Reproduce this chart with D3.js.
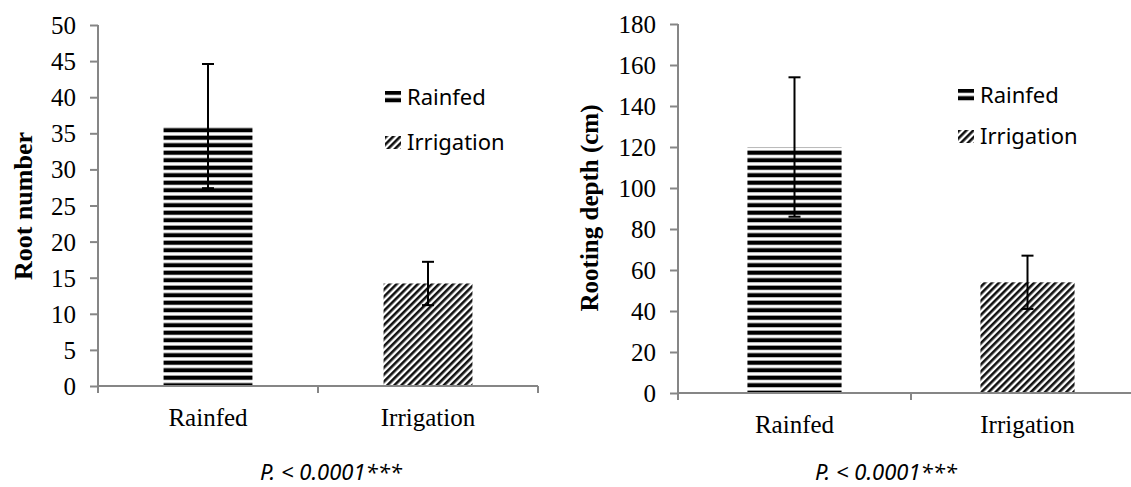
<!DOCTYPE html>
<html>
<head>
<meta charset="utf-8">
<script src="https://cdn.jsdelivr.net/npm/d3@7"></script>
<style>
  html, body { margin: 0; padding: 0; background: #fff; }
  svg { display: block; }
</style>
</head>
<body>
<svg id="chart" width="1131" height="487"></svg>
<script>
// Treatments shown on both panels
const categories = ["Rainfed", "Irrigation"];

// Panel 1: root number (mean and standard error)
const rootNumber = [36, 14.2];
const rootNumberErr = [8.6, 3];
const rootTicks = [0, 5, 10, 15, 20, 25, 30, 35, 40, 45, 50];

// Panel 2: rooting depth in cm (mean and standard error)
const rootDepth = [120, 54];
const rootDepthErr = [34, 13];
const depthTicks = [0, 20, 40, 60, 80, 100, 120, 140, 160, 180];

const pLabel = "P. < 0.0001***";

const svg = d3.select("#chart");
const serif = "Liberation Serif, Times New Roman, serif";
const sans = "Noto Sans, Open Sans, sans-serif";
const axisGrey = "#868686";

// Fill patterns: wide horizontal stripes and dark upward diagonals
const defs = svg.append("defs");
const hp = defs.append("pattern")
  .attr("id", "pat-rainfed")
  .attr("patternUnits", "userSpaceOnUse")
  .attr("width", 8).attr("height", 7.5);
hp.append("rect").attr("width", 8).attr("height", 7.5).attr("fill", "#fff");
hp.append("rect").attr("y", 0.6).attr("width", 8).attr("height", 4.2).attr("fill", "#000");

const dp = defs.append("pattern")
  .attr("id", "pat-irrigation")
  .attr("patternUnits", "userSpaceOnUse")
  .attr("width", 5).attr("height", 5)
  .attr("patternTransform", "rotate(45)");
dp.append("rect").attr("width", 5).attr("height", 5).attr("fill", "#fff");
dp.append("rect").attr("width", 2.6).attr("height", 5).attr("fill", "#111");

const fills = ["url(#pat-rainfed)", "url(#pat-irrigation)"];

function panel(cfg) {
  const g = svg.append("g");
  const y = d3.scaleLinear().domain(cfg.domain).range([cfg.bottom, cfg.top]);
  const x = d3.scaleBand().domain(categories)
    .range([cfg.left, cfg.right]).paddingInner(0.596).paddingOuter(0.298);

  // bars
  g.selectAll("rect.bar").data(categories).join("rect")
    .attr("class", "bar")
    .attr("x", d => x(d))
    .attr("width", x.bandwidth())
    .attr("y", (d, i) => y(cfg.values[i]))
    .attr("height", (d, i) => y(0) - y(cfg.values[i]))
    .attr("fill", (d, i) => fills[i]);

  // y axis
  const yAxis = d3.axisLeft(y).tickValues(cfg.ticks).tickSize(8).tickPadding(14)
    .tickFormat(d3.format("d"));
  const ya = g.append("g").attr("transform", `translate(${cfg.left},0)`).call(yAxis)
    .attr("font-family", serif).attr("font-size", 25);
  ya.select(".domain").attr("stroke", axisGrey).attr("stroke-width", 2)
    .attr("d", `M0,${cfg.top}V${cfg.bottom}`);
  ya.selectAll(".tick line").attr("stroke", axisGrey).attr("stroke-width", 2);
  ya.selectAll(".tick text")
    .style("font-family", serif).style("font-size", "25px")
    .attr("fill", "#000").attr("dy", "0.34em");

  // x axis with tick marks between categories
  const step = x.step();
  const xa = g.append("g").attr("transform", `translate(0,${cfg.bottom})`);
  xa.append("line").attr("x1", cfg.left).attr("x2", cfg.right)
    .attr("stroke", axisGrey).attr("stroke-width", 2);
  xa.selectAll("line.sep").data(d3.range(categories.length + 1)).join("line")
    .attr("class", "sep")
    .attr("x1", i => cfg.left + i * step).attr("x2", i => cfg.left + i * step)
    .attr("y1", 0).attr("y2", 7)
    .attr("stroke", axisGrey).attr("stroke-width", 2);
  xa.selectAll("text").data(categories).join("text")
    .attr("x", d => x(d) + x.bandwidth() / 2)
    .attr("y", 40)
    .attr("text-anchor", "middle")
    .style("font-family", serif).style("font-size", "25px").attr("fill", "#000")
    .text(d => d);

  // error bars
  const eb = g.selectAll("g.err").data(categories).join("g").attr("class", "err")
    .attr("stroke", "#000").attr("stroke-width", 2);
  eb.append("line")
    .attr("x1", d => x(d) + x.bandwidth() / 2).attr("x2", d => x(d) + x.bandwidth() / 2)
    .attr("y1", (d, i) => y(cfg.values[i] - cfg.errors[i]))
    .attr("y2", (d, i) => y(cfg.values[i] + cfg.errors[i]));
  [-1, 1].forEach(s => {
    eb.append("line")
      .attr("x1", d => x(d) + x.bandwidth() / 2 - 6).attr("x2", d => x(d) + x.bandwidth() / 2 + 6)
      .attr("y1", (d, i) => y(cfg.values[i] + s * cfg.errors[i]))
      .attr("y2", (d, i) => y(cfg.values[i] + s * cfg.errors[i]));
  });

  // y axis title
  g.append("text")
    .attr("transform", `translate(${cfg.titleX},${cfg.titleY}) rotate(-90)`)
    .attr("text-anchor", "middle")
    .style("font-family", serif).style("font-weight", "bold")
    .style("font-size", cfg.titleSize + "px").attr("fill", "#000")
    .text(cfg.title);

  // legend
  const lg = g.selectAll("g.leg").data(categories).join("g").attr("class", "leg")
    .attr("transform", (d, i) => `translate(${cfg.legendX},${cfg.legendY + i * cfg.legendGap})`);
  lg.append("rect").attr("x", 0).attr("y", -14).attr("width", 16).attr("height", 13)
    .attr("fill", (d, i) => fills[i]);
  lg.append("text").attr("x", 22).attr("y", 0)
    .style("font-family", sans).style("font-size", "22px").attr("fill", "#000")
    .text(d => d);

  // significance note
  g.append("text")
    .attr("x", cfg.pX).attr("y", cfg.pY)
    .style("font-family", sans).style("font-style", "italic")
    .style("font-size", "22px").attr("fill", "#000")
    .text(pLabel);
}

panel({
  values: rootNumber, errors: rootNumberErr, domain: [0, 50], ticks: rootTicks,
  left: 98, right: 538, top: 25, bottom: 386,
  title: "Root number", titleX: 32, titleY: 206, titleSize: 26,
  legendX: 385, legendY: 105, legendGap: 45,
  pX: 260, pY: 480
});

panel({
  values: rootDepth, errors: rootDepthErr, domain: [0, 180], ticks: depthTicks,
  left: 678, right: 1144, top: 24, bottom: 393,
  title: "Rooting depth (cm)", titleX: 598, titleY: 208, titleSize: 25,
  legendX: 958, legendY: 103, legendGap: 41,
  pX: 815, pY: 480
});
</script>
</body>
</html>
